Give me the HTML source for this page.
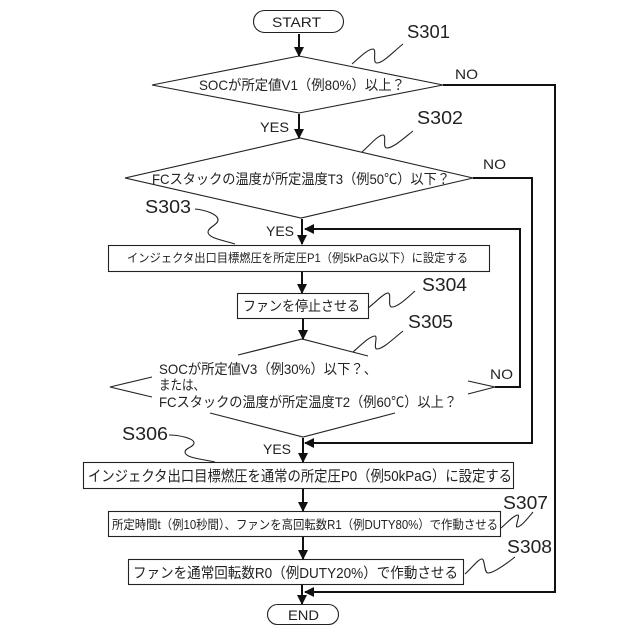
<!DOCTYPE html>
<html><head><meta charset="utf-8"><style>
html,body{margin:0;padding:0;background:#fff}
svg{display:block}
text{font-family:"Liberation Sans","Noto Sans CJK JP",sans-serif;fill:#222}
.l{font-size:18px}.y{font-size:14px}
</style></head><body>
<svg width="640" height="640" viewBox="0 0 640 640" xmlns="http://www.w3.org/2000/svg">
<defs><marker id="a" markerWidth="11" markerHeight="11" refX="9" refY="5" orient="auto" markerUnits="userSpaceOnUse"><path d="M0 0L10 5L0 10Z" fill="#111"/></marker></defs>
<rect width="640" height="640" fill="#fff"/>
<g fill="none" stroke="#222" stroke-width="1.1">
<rect x="253.500" y="10.500" width="90" height="22" rx="11"/>
<rect x="267.500" y="604.500" width="71" height="20" rx="10"/>
<path d="M152 85L299 56L443 85L299 113Z"/>
<path d="M125 178L300 138L473 178L301 218Z"/>
<rect x="108.500" y="245.500" width="381" height="26"/>
<rect x="237.500" y="293.500" width="131" height="25"/>
<rect x="83.500" y="462.500" width="430" height="26"/>
<rect x="108.500" y="511.500" width="392" height="25"/>
<rect x="128.500" y="559.500" width="335" height="25"/>
<path d="M238 355L302 339L368 356M152 377L110 387L152 397M468 381L495 387L468 394M210 413L303 437L395 413"/>
<path d="M352 64C360 57 368 49 373 49C377 49 372 63 377 63C383 63 393 52 403 44"/>
<path d="M362 152C370 145 378 135 383 135C387 135 382 148 387 148C393 148 403 139 413 131"/>
<path d="M195 209C205 210 218 214 218 220C218 225 208 227 208 232C208 238 222 240 235 244"/>
<path d="M368 308C376 302 384 293 388 293C392 293 387 307 392 307C398 307 407 298 415 291"/>
<path d="M353 352C361 345 370 336 375 336C378 336 373 349 377 349C383 349 393 339 403 331"/>
<path d="M169 435C178 435 194 438 194 443C194 447 185 448 185 452C185 458 202 459 215 462"/>
<path d="M501 528C507 523 514 515 518 515C520 515 515 527 517 527C521 527 528 518 533 512"/>
<path d="M465 574C472 568 478 559 482 559C485 559 484 573 488 573C494 573 506 564 515 557"/>
</g>
<g fill="none" stroke="#111" stroke-width="2">
<path d="M299 34V56" marker-end="url(#a)"/>
<path d="M299 114V138" marker-end="url(#a)"/>
<path d="M302 219V244" marker-end="url(#a)"/>
<path d="M302 272V293" marker-end="url(#a)"/>
<path d="M303 319V339" marker-end="url(#a)"/>
<path d="M303 438V462" marker-end="url(#a)"/>
<path d="M303 489V511" marker-end="url(#a)"/>
<path d="M303 537V559" marker-end="url(#a)"/>
<path d="M302 585V604" marker-end="url(#a)"/>
<path d="M443 85H555V592H305" marker-end="url(#a)"/>
<path d="M473 178H532V443H305" marker-end="url(#a)"/>
<path d="M495 387H520V229H305" marker-end="url(#a)"/>
</g>
<text class="y" x="272" y="27" textLength="49" lengthAdjust="spacingAndGlyphs">START</text>
<text class="y" x="288" y="620" textLength="31" lengthAdjust="spacingAndGlyphs">END</text>
<text x="199" y="90" font-size="14" textLength="206" lengthAdjust="spacingAndGlyphs">SOCが所定値V1（例80%）以上？</text>
<text x="152" y="184" font-size="14" textLength="298" lengthAdjust="spacingAndGlyphs">FCスタックの温度が所定温度T3（例50℃）以下？</text>
<text x="127" y="262" font-size="12" textLength="341" lengthAdjust="spacingAndGlyphs">インジェクタ出口目標燃圧を所定圧P1（例5kPaG以下）に設定する</text>
<text x="243" y="311" font-size="14" textLength="117" lengthAdjust="spacingAndGlyphs">ファンを停止させる</text>
<text x="159" y="374" font-size="14" textLength="218" lengthAdjust="spacingAndGlyphs">SOCが所定値V3（例30%）以下？、</text>
<text x="159" y="390" font-size="14" textLength="46" lengthAdjust="spacingAndGlyphs">または、</text>
<text x="159" y="407" font-size="14" textLength="298" lengthAdjust="spacingAndGlyphs">FCスタックの温度が所定温度T2（例60℃）以上？</text>
<text x="88" y="481" font-size="15" textLength="424" lengthAdjust="spacingAndGlyphs">インジェクタ出口目標燃圧を通常の所定圧P0（例50kPaG）に設定する</text>
<text x="112" y="529" font-size="12.500" textLength="386" lengthAdjust="spacingAndGlyphs">所定時間t（例10秒間）、ファンを高回転数R1（例DUTY80%）で作動させる</text>
<text x="133" y="578" font-size="14.500" textLength="325" lengthAdjust="spacingAndGlyphs">ファンを通常回転数R0（例DUTY20%）で作動させる</text>
<text class="l" x="407" y="38" textLength="43" lengthAdjust="spacingAndGlyphs">S301</text>
<text class="l" x="417" y="124" textLength="46" lengthAdjust="spacingAndGlyphs">S302</text>
<text class="l" x="145" y="213" textLength="46" lengthAdjust="spacingAndGlyphs">S303</text>
<text class="l" x="422" y="291" textLength="45" lengthAdjust="spacingAndGlyphs">S304</text>
<text class="l" x="408" y="328" textLength="45" lengthAdjust="spacingAndGlyphs">S305</text>
<text class="l" x="122" y="440" textLength="46" lengthAdjust="spacingAndGlyphs">S306</text>
<text class="l" x="503" y="509" textLength="45" lengthAdjust="spacingAndGlyphs">S307</text>
<text class="l" x="507" y="553" textLength="45" lengthAdjust="spacingAndGlyphs">S308</text>
<text class="y" x="455" y="79" textLength="23" lengthAdjust="spacingAndGlyphs">NO</text>
<text class="y" x="483" y="169" textLength="23" lengthAdjust="spacingAndGlyphs">NO</text>
<text class="y" x="490" y="379" textLength="23" lengthAdjust="spacingAndGlyphs">NO</text>
<text class="y" x="260" y="132" textLength="29" lengthAdjust="spacingAndGlyphs">YES</text>
<text class="y" x="266" y="236" textLength="28" lengthAdjust="spacingAndGlyphs">YES</text>
<text class="y" x="263" y="454" textLength="28" lengthAdjust="spacingAndGlyphs">YES</text>
</svg>
</body></html>
